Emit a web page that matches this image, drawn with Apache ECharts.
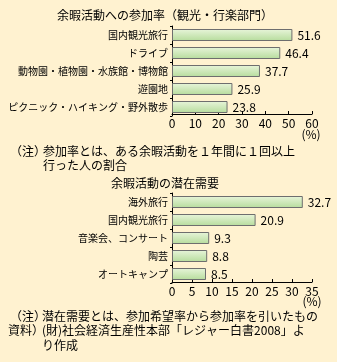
<!DOCTYPE html>
<html>
<head>
<meta charset="utf-8">
<script src="https://cdn.jsdelivr.net/npm/echarts@6/dist/echarts.min.js"></script>
<style>
  html, body { margin: 0; padding: 0; background: #fff2d0; }
  #chart { width: 337px; height: 362px; }
</style>
</head>
<body>
<div id="chart"></div>
<script>
// Participation rate (sightseeing / excursion)
const participationCategories = ['国内観光旅行', 'ドライブ', '動物園・植物園・水族館・博物館', '遊園地', 'ピクニック・ハイキング・野外散歩'];
const participationValues = [51.6, 46.4, 37.7, 25.9, 23.8];
const participationTicks = [0, 10, 20, 30, 40, 50, 60];

// Latent demand
const demandCategories = ['海外旅行', '国内観光旅行', '音楽会、コンサート', '陶芸', 'オートキャンプ'];
const demandValues = [32.7, 20.9, 9.3, 8.8, 8.5];
const demandTicks = [0, 5, 10, 15, 20, 25, 30, 35];

const FONT = '"Noto Sans CJK JP", "Noto Sans", sans-serif';

const barStyle = {
  color: new echarts.graphic.LinearGradient(0, 0, 0, 1, [
    { offset: 0, color: '#e8f5da' },
    { offset: 1, color: '#b6dc9c' }
  ]),
  borderColor: '#6e6e6e',
  borderWidth: 1
};

function valueAxis(gridIndex, ticks, offset) {
  return {
    gridIndex: gridIndex,
    type: 'value',
    min: ticks[0],
    max: ticks[ticks.length - 1],
    interval: ticks[1] - ticks[0],
    offset: offset,
    splitLine: { show: false },
    axisLine: { show: true, lineStyle: { color: '#000', width: 1 } },
    axisTick: { show: true, inside: true, length: 3, lineStyle: { color: '#000' } },
    axisLabel: { color: '#000', fontSize: 12, fontFamily: FONT, margin: 3 }
  };
}

function categoryAxis(gridIndex, cats) {
  return {
    gridIndex: gridIndex,
    type: 'category',
    data: cats,
    inverse: true,
    axisLine: { show: true, lineStyle: { color: '#000', width: 1 } },
    axisTick: { show: true, length: 2, lineStyle: { color: '#000' } },
    axisLabel: { color: '#000', fontSize: 10, fontFamily: FONT, margin: 4 }
  };
}

function barSeries(idx, values) {
  return {
    type: 'bar',
    xAxisIndex: idx,
    yAxisIndex: idx,
    data: values,
    barWidth: 12,
    itemStyle: barStyle,
    label: {
      show: true,
      position: 'right',
      distance: 5,
      color: '#000',
      fontSize: 12,
      fontFamily: FONT,
      formatter: p => p.value.toFixed(1)
    },
    silent: true
  };
}

function text(x, y, str, opts) {
  return Object.assign({
    type: 'text',
    x: x,
    y: y,
    style: Object.assign({
      text: str,
      fill: '#000',
      font: '12px ' + FONT,
      textAlign: 'left',
      textVerticalAlign: 'middle'
    }, opts || {})
  });
}

const chart = echarts.init(document.getElementById('chart'), null, { renderer: 'canvas' });
chart.setOption({
  backgroundColor: '#fff2d0',
  animation: false,
  grid: [
    { left: 172, right: 25, top: 26, height: 90 },
    { left: 172, right: 25, top: 193, height: 90 }
  ],
  xAxis: [valueAxis(0, participationTicks, -2), valueAxis(1, demandTicks, -1)],
  yAxis: [categoryAxis(0, participationCategories), categoryAxis(1, demandCategories)],
  series: [barSeries(0, participationValues), barSeries(1, demandValues)],
  graphic: [
    text(165, 15, '余暇活動への参加率（観光・行楽部門）', { textAlign: 'center' }),
    text(311, 134, '(%)', { textAlign: 'center' }),
    text(10, 151.5, '（注）'),
    text(43, 151.5, '参加率とは、ある余暇活動を１年間に１回以上'),
    text(43, 165.5, '行った人の割合'),
    text(165, 183, '余暇活動の潜在需要', { textAlign: 'center' }),
    text(312, 301, '(%)', { textAlign: 'center' }),
    text(10, 316, '（注）'),
    text(42, 316, '潜在需要とは、参加希望率から参加率を引いたもの'),
    text(8, 330.5, '資料）'),
    text(42, 330.5, '(財)社会経済生産性本部「レジャー白書2008」よ'),
    text(42, 345, 'り作成')
  ]
});
</script>
</body>
</html>
